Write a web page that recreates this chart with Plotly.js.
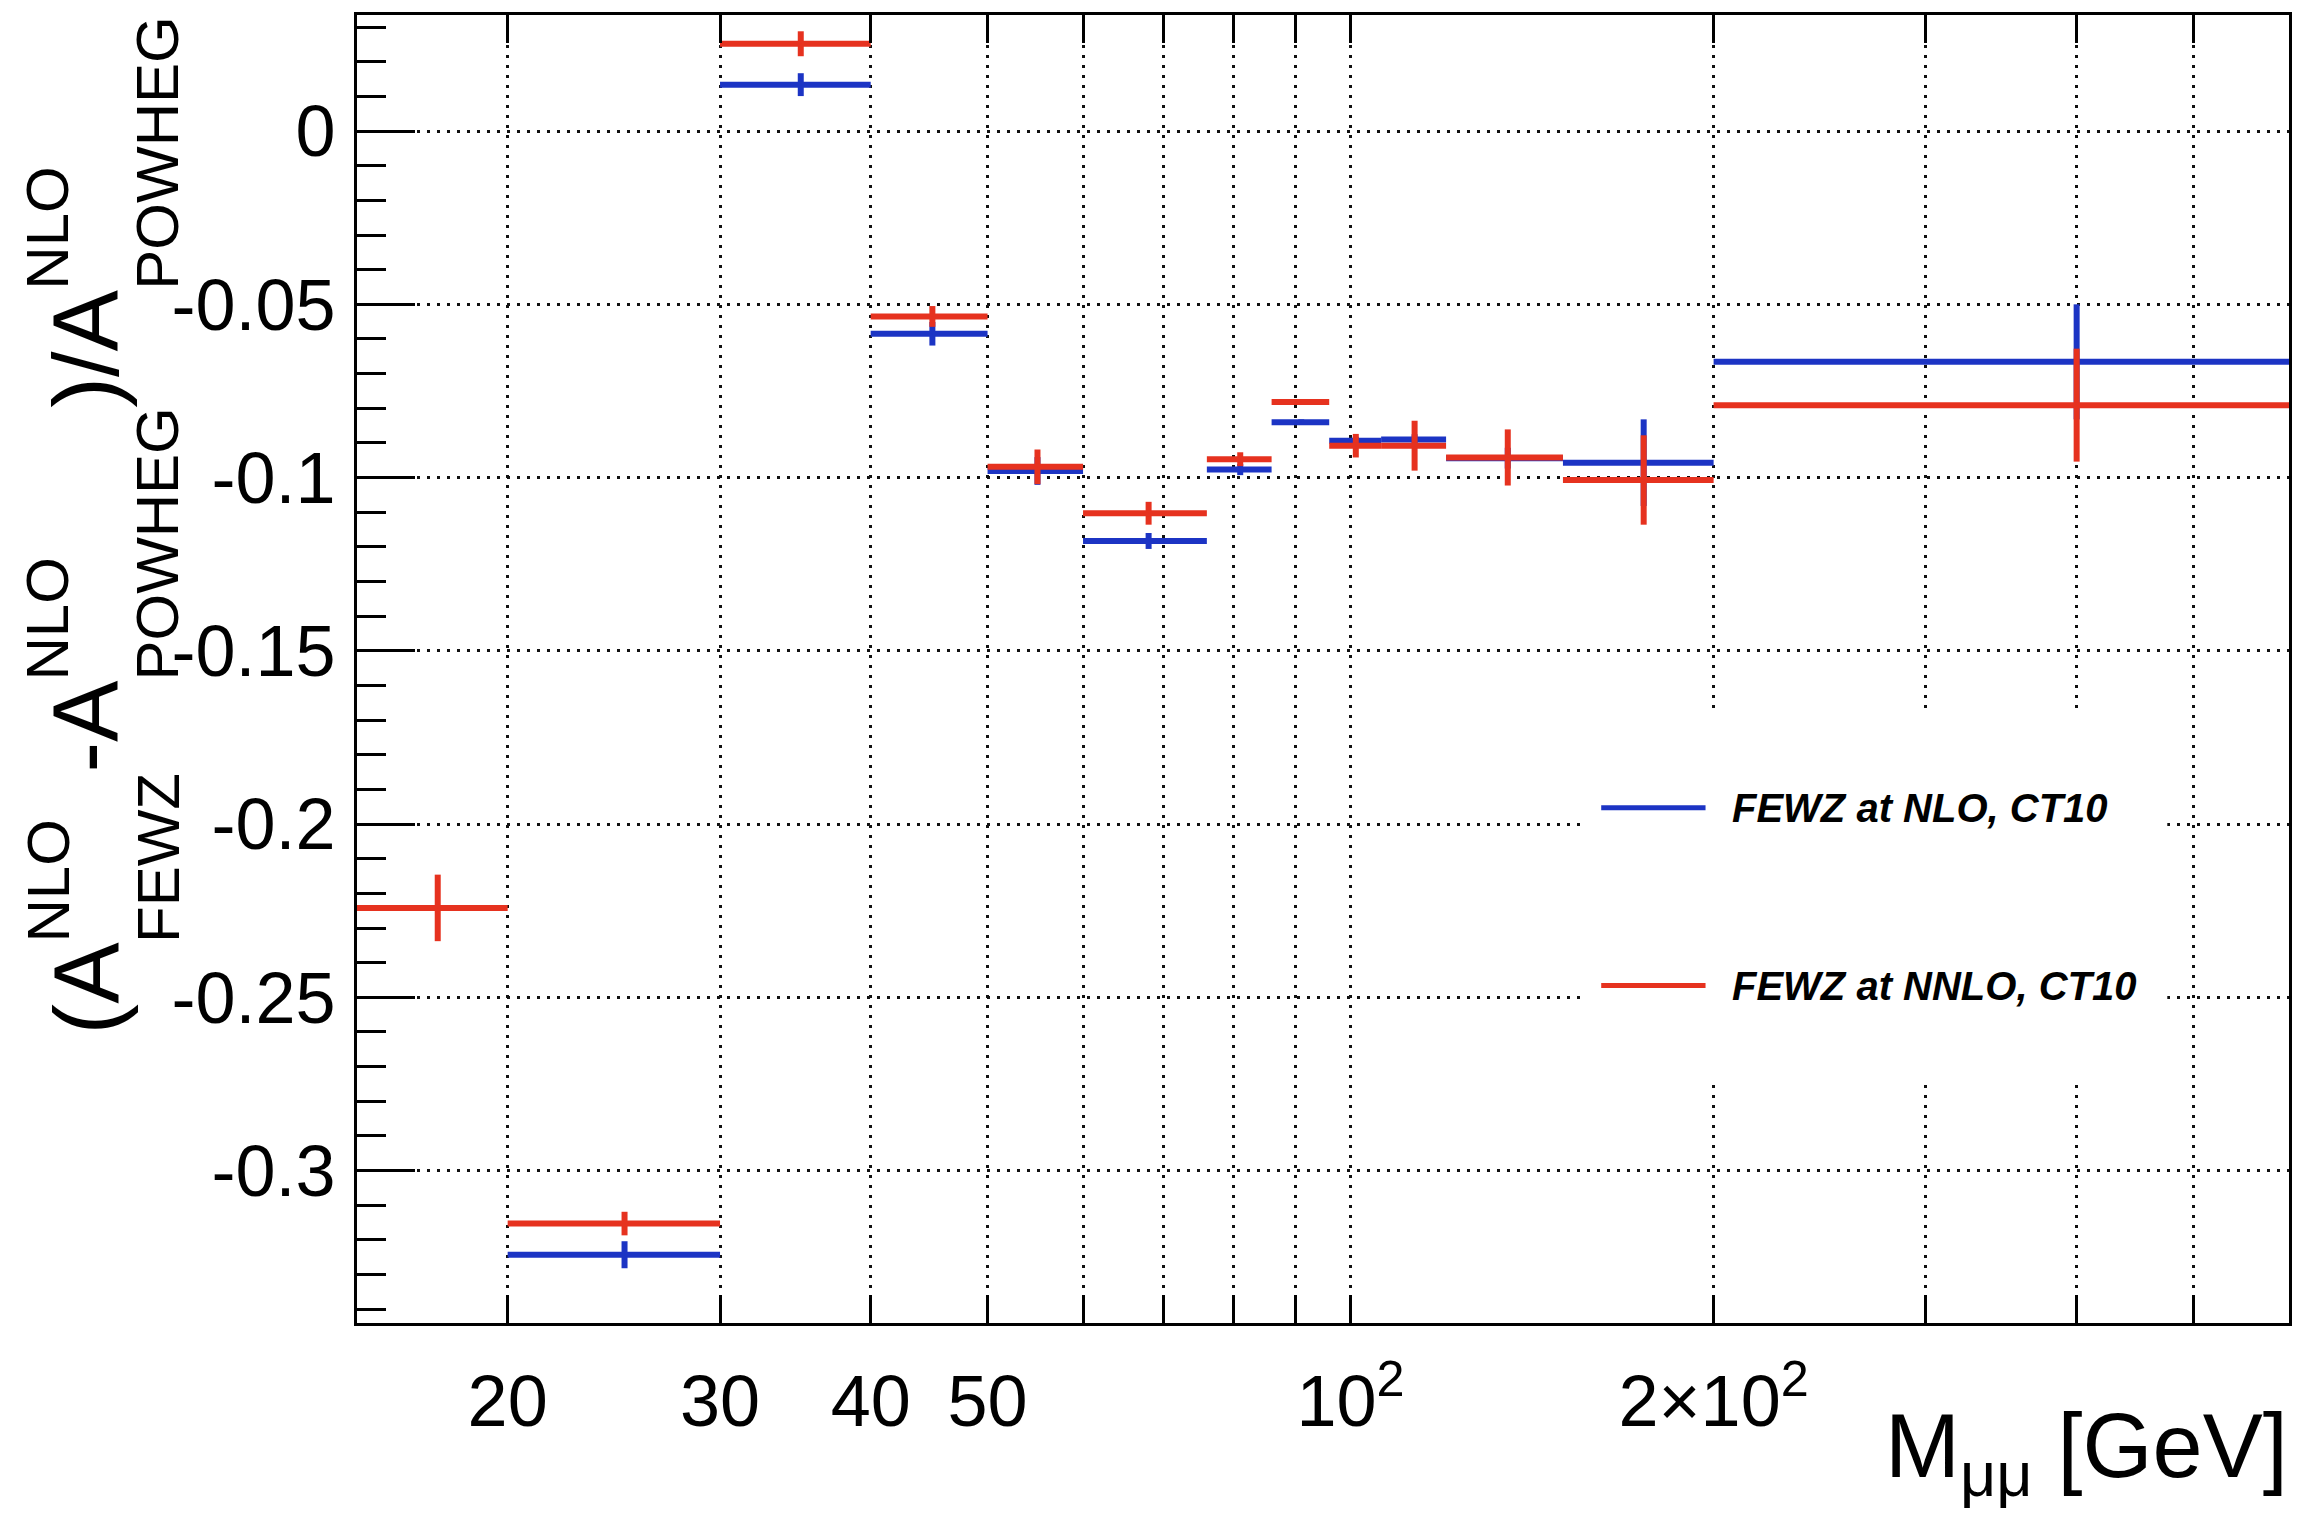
<!DOCTYPE html>
<html>
<head>
<meta charset="utf-8">
<script src="https://cdn.plot.ly/plotly-3.0.1.min.js"></script>
<style>html,body{margin:0;padding:0;background:#fff;}</style>
</head>
<body>
<div id="chart" style="width:2313px;height:1516px;"></div>
<script>
// ---- data ----
const binEdges = [15, 20, 30, 40, 50, 60, 76, 86, 96, 106, 120, 150, 200, 600];
const nloValues = [null, -0.3243, 0.0134, -0.0585, -0.0981, -0.1183, -0.0977, -0.0840, -0.0894, -0.0890, -0.0944, -0.0957, -0.0666];
const nloErrors = [null, 0.0039, 0.0033, 0.0034, 0.0040, 0.0023, 0.0016, 0.0008, 0.0012, 0.0015, 0.0030, 0.0125, 0.0166];
const nnloValues = [-0.2242, -0.3153, 0.0252, -0.0535, -0.0969, -0.1103, -0.0947, -0.0782, -0.0908, -0.0908, -0.0942, -0.1007, -0.0791];
const nnloErrors = [0.0096, 0.0034, 0.0036, 0.0030, 0.0050, 0.0033, 0.0020, 0.0008, 0.0034, 0.0072, 0.0081, 0.0129, 0.0163];
const seriesNames = ['FEWZ at NLO, CT10', 'FEWZ at NNLO, CT10'];
const xTickVals = [20, 30, 40, 50, 60, 70, 80, 90, 100, 200, 300, 400, 500, 600];
const xTickText = ['20', '30', '40', '50', '', '', '', '', '10<sup>2</sup>', '2\u00d710<sup>2</sup>', '', '', '', ''];
const yTickVals = [0, -0.05, -0.1, -0.15, -0.2, -0.25, -0.3];
const yTickText = ['0', '-0.05', '-0.1', '-0.15', '-0.2', '-0.25', '-0.3'];

const FONT = '"Liberation Sans", Arial, Helvetica, sans-serif';
const BLUE = '#1c34c4';
const RED = '#e6321f';

const lo = binEdges.slice(0, -1), hi = binEdges.slice(1);
const centers = lo.map((l, i) => (l + hi[i]) / 2);
const errPlus = centers.map((c, i) => hi[i] - c);
const errMinus = centers.map((c, i) => c - lo[i]);

function series(vals, errs, color, name) {
  return {
    type: 'scatter', mode: 'markers', name: name,
    x: centers, y: vals,
    marker: {size: 1, color: color},
    error_x: {type: 'data', symmetric: false, array: errPlus, arrayminus: errMinus, thickness: 6, width: 0, color: color},
    error_y: {type: 'data', array: errs, thickness: 6, width: 0, color: color},
    hoverinfo: 'skip'
  };
}
const data = [
  series(nloValues, nloErrors, BLUE, seriesNames[0]),
  series(nnloValues, nnloErrors, RED, seriesNames[1])
];

// ---- y title built from pieces (ROOT-style stacked sub/superscripts) ----
const PL = 357, PW = 1932, PT = 15, PH = 1308;
const ctx = document.createElement('canvas').getContext('2d');
function tw(t, s) { ctx.font = s + 'px "Liberation Sans"'; return ctx.measureText(t).width; }
const mainSize = 92, smallSize = 60;
const mainParts = ['(A', '-A', ')/A'];
const subParts = ['FEWZ', 'POWHEG', 'POWHEG'];
const supParts = ['NLO', 'NLO', 'NLO'];
const startPx = 1036; // screen y where title starts (bottom)
const yStart = (PT + PH - startPx) / PH;
const xMain = (86 - PL) / PW, xSub = (158 - PL) / PW, xSup = (48 - PL) / PW;
const annotations = [];
let pos = 0;
for (let i = 0; i < mainParts.length; i++) {
  annotations.push({xref: 'paper', yref: 'paper', x: xMain, y: yStart, xanchor: 'center', yanchor: 'bottom',
    yshift: pos, text: mainParts[i], textangle: -90, showarrow: false, borderpad: 0,
    font: {family: FONT, size: mainSize, color: '#000'}});
  pos += tw(mainParts[i], mainSize);
  annotations.push({xref: 'paper', yref: 'paper', x: xSub, y: yStart, xanchor: 'center', yanchor: 'bottom',
    yshift: pos, text: subParts[i], textangle: -90, showarrow: false, borderpad: 0,
    font: {family: FONT, size: smallSize, color: '#000'}});
  annotations.push({xref: 'paper', yref: 'paper', x: xSup, y: yStart, xanchor: 'center', yanchor: 'bottom',
    yshift: pos, text: supParts[i], textangle: -90, showarrow: false, borderpad: 0,
    font: {family: FONT, size: smallSize, color: '#000'}});
  pos += Math.max(tw(subParts[i], smallSize), tw(supParts[i], smallSize));
}

// x title
annotations.push({xref: 'paper', yref: 'paper', x: 1, y: -0.055, xanchor: 'right', yanchor: 'top',
  text: 'M<sub>\u03bc\u03bc</sub> [GeV]', showarrow: false, borderpad: 0,
  font: {family: FONT, size: 90, color: '#000'}});

// legend
const legRows = [0.394, 0.258];
const legColors = [BLUE, RED];
const shapes = [{type: 'rect', xref: 'paper', yref: 'paper', x0: 0.635, x1: 0.937, y0: 0.186, y1: 0.465,
  fillcolor: '#fff', line: {width: 0}, layer: 'above'}];
for (let i = 0; i < 2; i++) {
  shapes.push({type: 'line', xref: 'paper', yref: 'paper', x0: 0.644, x1: 0.698, y0: legRows[i], y1: legRows[i],
    line: {color: legColors[i], width: 5}, layer: 'above'});
  annotations.push({xref: 'paper', yref: 'paper', x: 0.711, y: legRows[i], xanchor: 'left', yanchor: 'middle',
    text: '<b><i>' + seriesNames[i] + '</i></b>', showarrow: false, borderpad: 0,
    font: {family: FONT, size: 40, color: '#000'}});
}

const gridDash = '3px,7px';
const layout = {
  width: 2313, height: 1516,
  margin: {l: PL, r: 2313 - PL - PW, t: PT, b: 1516 - PT - PH},
  paper_bgcolor: '#fff', plot_bgcolor: '#fff',
  showlegend: false,
  xaxis: {
    type: 'log', range: [Math.log10(15), Math.log10(600)],
    tickmode: 'array', tickvals: xTickVals, ticktext: xTickText, tickangle: 0,
    ticks: 'inside', ticklen: 28, tickwidth: 3, tickcolor: '#000',
    showline: true, linewidth: 3, linecolor: '#000', mirror: 'ticks',
    showgrid: true, gridcolor: '#111', gridwidth: 3, griddash: gridDash,
    zeroline: false, ticklabelstandoff: 14,
    tickfont: {family: FONT, size: 72, color: '#000'}
  },
  yaxis: {
    range: [-0.344, 0.0335],
    tickmode: 'array', tickvals: yTickVals, ticktext: yTickText,
    ticks: 'inside', ticklen: 58, tickwidth: 3, tickcolor: '#000',
    minor: {tickmode: 'linear', tick0: 0, dtick: 0.01, ticks: 'inside', ticklen: 29, tickwidth: 3, tickcolor: '#000', showgrid: false},
    showline: true, linewidth: 3, linecolor: '#000', mirror: true,
    showgrid: true, gridcolor: '#111', gridwidth: 3, griddash: gridDash,
    zeroline: false, ticklabelstandoff: 4,
    tickfont: {family: FONT, size: 72, color: '#000'}
  },
  shapes: shapes,
  annotations: annotations
};

Plotly.newPlot('chart', data, layout, {staticPlot: true, displayModeBar: false});
</script>
</body>
</html>
